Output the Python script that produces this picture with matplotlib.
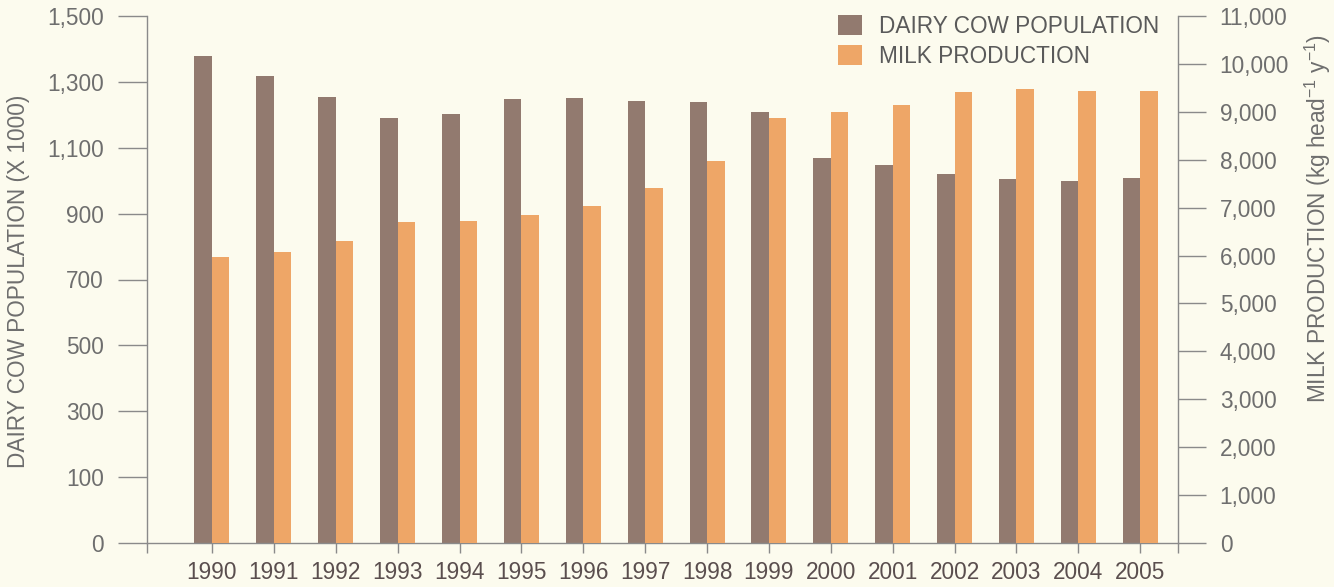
import matplotlib
matplotlib.use("Agg")
import matplotlib.pyplot as plt
from matplotlib.patches import Patch
from matplotlib.ticker import FixedLocator, FuncFormatter

plt.rcParams['font.family'] = ['Liberation Sans', 'DejaVu Sans']
plt.rcParams['mathtext.fontset'] = 'custom'
plt.rcParams['mathtext.rm'] = 'Liberation Sans'

# ---- data -------------------------------------------------------------
years = list(range(1990, 2006))
cow_population = [1379, 1319, 1253, 1191, 1202, 1248, 1252, 1241,
                  1238, 1209, 1068, 1047, 1019, 1004, 998, 1008]      # x 1000 head
milk_production = [5960, 6080, 6300, 6690, 6720, 6850, 7030, 7420,
                   7980, 8870, 8990, 9140, 9420, 9470, 9440, 9430]    # kg head-1 y-1

# the population axis starts one step below 100 and that floor is labelled 0
cow_floor = -100
cow_ticks = [-100, 100, 300, 500, 700, 900, 1100, 1300, 1500]
cow_tick_labels = ["0", "100", "300", "500", "700", "900", "1,100", "1,300", "1,500"]
milk_ticks = list(range(0, 11001, 1000))

series_labels = ["DAIRY COW POPULATION", "MILK PRODUCTION"]

# ---- style ------------------------------------------------------------
BG = "#fcfbee"
COW = "#927a6f"
MILK = "#eea667"
AXIS = "#8a8a8a"
NUM = "#6e6e6e"
YEAR = "#5a4e4e"
FS = 16.3

fig = plt.figure(figsize=(13.34, 5.87), dpi=100, facecolor=BG)
W, H = 1334, 587
ax = fig.add_axes([147 / W, 44 / H, (1178 - 147) / W, (543 - 16) / H])
ax.set_facecolor(BG)
ax2 = ax.twinx()
ax2.patch.set_visible(False)

x = list(range(len(years)))
bw = 0.283

ax.bar([i - bw for i in x], [v - cow_floor for v in cow_population],
       bottom=cow_floor, width=bw, align="edge", color=COW, linewidth=0)
ax2.bar(x, milk_production, width=bw, align="edge", color=MILK, linewidth=0)

ax.set_xlim(-1.05, 15.61)
ax.set_ylim(cow_floor, 1500)
ax2.set_ylim(0, 11000)

# spines
for s in ("top", "right"):
    ax.spines[s].set_visible(False)
for s in ("top", "left", "bottom"):
    ax2.spines[s].set_visible(False)
for sp in (ax.spines["left"], ax.spines["bottom"], ax2.spines["right"]):
    sp.set_color(AXIS)
    sp.set_linewidth(1.0)

# left axis
ax.yaxis.set_major_locator(FixedLocator(cow_ticks))
ax.set_yticklabels(cow_tick_labels)
ax.tick_params(axis="y", direction="out", length=21, width=1.0, color=AXIS,
               pad=10, labelsize=FS, labelcolor=NUM)

# right axis
ax2.yaxis.set_major_locator(FixedLocator(milk_ticks))
ax2.yaxis.set_major_formatter(FuncFormatter(lambda v, p: f"{int(v):,}"))
ax2.tick_params(axis="y", direction="out", length=20, width=1.0, color=AXIS,
                pad=10, labelsize=FS, labelcolor=NUM)

# x axis
ax.set_xticks(x)
ax.set_xticklabels([str(y) for y in years])
ax.xaxis.set_minor_locator(FixedLocator([-1.05, 15.61]))
ax.tick_params(axis="x", which="both", direction="out", length=7, width=1.0,
               color=AXIS, pad=6, labelsize=FS, labelcolor=YEAR)

# axis titles
fig.text(19 / W, 1 - 281 / H, "DAIRY COW POPULATION (X 1000)", rotation=90,
         ha="center", va="center", fontsize=FS, color=NUM)
fig.text(1318 / W, 1 - 218 / H,
         r"MILK PRODUCTION (kg head$^{\mathregular{-1}}$ y$^{\mathregular{-1}}$)",
         rotation=90, ha="center", va="center", fontsize=FS, color=NUM)

# legend
handles = [Patch(facecolor=COW, edgecolor="none"),
           Patch(facecolor=MILK, edgecolor="none")]
leg = ax2.legend(handles, series_labels, loc="upper left",
                 bbox_to_anchor=(838 / W, 1 - 15 / H),
                 bbox_transform=fig.transFigure, frameon=False,
                 fontsize=FS, handlelength=1.04, handleheight=0.95,
                 handletextpad=0.75, labelspacing=0.3,
                 borderpad=0, borderaxespad=0)
for t in leg.get_texts():
    t.set_color("#5a5a5a")

fig.savefig("out.png", dpi=100, facecolor=BG)
